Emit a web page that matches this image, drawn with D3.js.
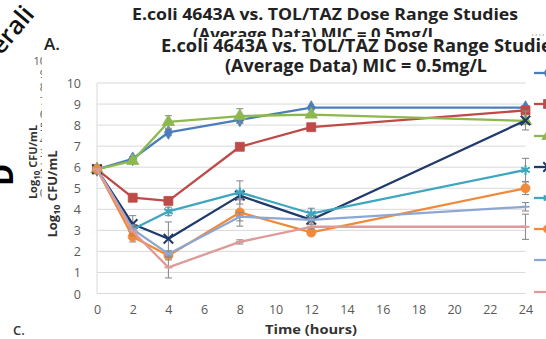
<!DOCTYPE html>
<html>
<head>
<meta charset="utf-8">
<script src="https://cdn.jsdelivr.net/npm/d3@7/dist/d3.min.js"></script>
<style>
  html, body { margin: 0; padding: 0; background: #fff; }
  svg { display: block; }
  text { font-family: "Open Sans", "Liberation Sans", sans-serif; }
</style>
</head>
<body>
<svg id="chart" width="546" height="339"></svg>
<script>
// Sampling times (hours)
const times = [0, 2, 4, 8, 12, 24];

// Mean log10 CFU/mL per series
const seriesBlue   = [5.9, 6.4, 7.65, 8.25, 8.83, 8.83];
const seriesRed    = [5.9, 4.55, 4.4, 6.97, 7.9, 8.7];
const seriesGreen  = [5.9, 6.3, 8.15, 8.43, 8.5, 8.2];
const seriesNavy   = [5.9, 3.3, 2.6, 4.65, 3.5, 8.22];
const seriesTeal   = [5.9, 3.05, 3.9, 4.8, 3.8, 5.87];
const seriesOrange = [5.9, 2.7, 1.8, 3.85, 2.9, 5.0];
const seriesLight  = [5.9, 3.05, 1.88, 3.65, 3.5, 4.12];
const seriesPink   = [5.9, 2.95, 1.24, 2.45, 3.17, 3.17];

// Standard deviations for the error bars
const errBlue   = [0, 0.1, 0.15, 0.15, 0.05, 0.05];
const errRed    = [0, 0.1, 0.1, 0.05, 0.1, 0.1];
const errGreen  = [0, 0.1, 0.3, 0.35, 0.05, 0.1];
const errNavy   = [0, 0.4, 0.8, 0.2, 0.2, 0.45];
const errTeal   = [0, 0.2, 0.2, 0.55, 0.25, 0.55];
const errOrange = [0, 0.25, 0.2, 0.65, 0.15, 0.3];
const errLight  = [0, 0.2, 0.15, 0.2, 0.1, 0.2];
const errPink   = [0, 0.2, 0.5, 0.1, 0.1, 0.6];

const xTicks = [0, 2, 4, 6, 8, 10, 12, 14, 16, 18, 20, 22, 24];
const yTicks = [0, 1, 2, 3, 4, 5, 6, 7, 8, 9, 10];

const titleLine1 = "E.coli 4643A vs. TOL/TAZ Dose Range Studies";
const titleLine2 = "(Average Data) MIC = 0.5mg/L";

const series = [
  { values: seriesBlue,   err: errBlue,   color: "#4A7EBB", marker: "diamond" },
  { values: seriesRed,    err: errRed,    color: "#BE4B48", marker: "square" },
  { values: seriesGreen,  err: errGreen,  color: "#8DB84E", marker: "triangle" },
  { values: seriesNavy,   err: errNavy,   color: "#1F3A6B", marker: "times" },
  { values: seriesTeal,   err: errTeal,   color: "#3FA6BF", marker: "asterisk" },
  { values: seriesOrange, err: errOrange, color: "#F08A3A", marker: "circle" },
  { values: seriesLight,  err: errLight,  color: "#8DA7D4", marker: "dash" },
  { values: seriesPink,   err: errPink,   color: "#DE9A98", marker: "dash" }
];

const svg = d3.select("#chart");

// ---- background copy of the figure (partly hidden) ----
const back = svg.append("g");
back.append("text")
  .attr("transform", "translate(1,56) rotate(-50)")
  .attr("font-size", 25).attr("font-weight", 600).attr("fill", "#111")
  .text("erali");

back.append("text").attr("x", 325).attr("y", 20).attr("text-anchor", "middle")
  .attr("font-size", 16).attr("font-weight", 700).attr("fill", "#222")
  .attr("textLength", 386).attr("lengthAdjust", "spacingAndGlyphs")
  .text(titleLine1);
back.append("text").attr("x", 315).attr("y", 40).attr("text-anchor", "middle")
  .attr("font-size", 16).attr("font-weight", 700).attr("fill", "#222")
  .attr("textLength", 244).attr("lengthAdjust", "spacingAndGlyphs")
  .text(titleLine2);

const yBack = d3.scaleLinear().domain([0, 10]).range([193, 61]);
back.selectAll("text.gtick").data(yTicks).join("text")
  .attr("class", "gtick")
  .attr("x", 46).attr("y", d => yBack(d) + 4)
  .attr("text-anchor", "end").attr("font-size", 11).attr("fill", "#595959")
  .text(d => d);

const gTitle = back.append("text")
  .attr("transform", `translate(37,162) rotate(-90)`)
  .attr("text-anchor", "middle").attr("font-size", 11).attr("font-weight", 700).attr("fill", "#333");
gTitle.append("tspan").text("Log");
gTitle.append("tspan").attr("font-size", 8).attr("dy", 3).text("10");
gTitle.append("tspan").attr("dy", -3).text(" CFU/mL");

back.append("line").attr("x1", 532).attr("x2", 546).attr("y1", 35).attr("y2", 35)
  .attr("stroke", "#9a9a9a").attr("stroke-width", 1.2).attr("stroke-dasharray", "1.5,2");

// ---- front chart ----
svg.append("rect").attr("x", 42).attr("y", 37).attr("width", 504).attr("height", 302).attr("fill", "#fff");

const margin = { left: 97, right: 525.5, top: 83, bottom: 293.5 };
const x = d3.scaleLinear().domain([0, 24]).range([margin.left, margin.right]);
const y = d3.scaleLinear().domain([0, 10]).range([margin.bottom, margin.top]);

// gridlines
svg.append("g").selectAll("line").data(yTicks).join("line")
  .attr("x1", margin.left).attr("x2", margin.right)
  .attr("y1", d => y(d)).attr("y2", d => y(d))
  .attr("stroke", "#D9D9D9").attr("stroke-width", 1);
svg.append("line").attr("x1", margin.left).attr("x2", margin.left)
  .attr("y1", margin.top).attr("y2", margin.bottom)
  .attr("stroke", "#D9D9D9").attr("stroke-width", 1);

// axes
const yAxis = svg.append("g").attr("transform", `translate(${margin.left - 16},0)`)
  .call(d3.axisLeft(y).tickValues(yTicks).tickSize(0).tickPadding(0));
yAxis.select(".domain").remove();
yAxis.selectAll("text").attr("font-size", 12.5).attr("fill", "#595959")
  .attr("font-family", "'Open Sans', sans-serif").attr("dy", "0.36em");

const xAxis = svg.append("g").attr("transform", `translate(0,${margin.bottom})`)
  .call(d3.axisBottom(x).tickValues(xTicks).tickSize(0).tickPadding(12));
xAxis.select(".domain").remove();
xAxis.selectAll("text").attr("font-size", 12.5).attr("fill", "#595959")
  .attr("font-family", "'Open Sans', sans-serif");

// axis titles
svg.append("text").attr("x", 311).attr("y", 334).attr("text-anchor", "middle")
  .attr("font-size", 12.5).attr("font-weight", 700).attr("fill", "#333")
  .attr("textLength", 92).attr("lengthAdjust", "spacingAndGlyphs")
  .text("Time (hours)");
const yTitle = svg.append("text")
  .attr("transform", `translate(57,194) rotate(-90)`)
  .attr("text-anchor", "middle").attr("font-size", 13).attr("font-weight", 700).attr("fill", "#333");
yTitle.append("tspan").text("Log");
yTitle.append("tspan").attr("font-size", 9).attr("dy", 3).text("10");
yTitle.append("tspan").attr("dy", -3).text(" CFU/mL");

// chart title
svg.append("text").attr("x", 161).attr("y", 52)
  .attr("font-size", 17).attr("font-weight", 700).attr("fill", "#222")
  .attr("textLength", 400).attr("lengthAdjust", "spacingAndGlyphs")
  .text(titleLine1);
svg.append("text").attr("x", 356).attr("y", 72).attr("text-anchor", "middle")
  .attr("font-size", 17).attr("font-weight", 700).attr("fill", "#222")
  .attr("textLength", 262).attr("lengthAdjust", "spacingAndGlyphs")
  .text(titleLine2);

// markers
function drawMarker(g, type, color, cx, cy, scale = 1) {
  const sym = {
    diamond: [d3.symbolDiamond, 55, true],
    square: [d3.symbolSquare, 80, true],
    triangle: [d3.symbolTriangle, 65, true],
    circle: [d3.symbolCircle, 65, true],
    times: [d3.symbolTimes, 60, false],
    asterisk: [d3.symbolAsterisk, 70, false]
  };
  if (type === "dash") {
    g.append("line").attr("x1", cx - 4).attr("x2", cx + 4).attr("y1", cy).attr("y2", cy)
      .attr("stroke", color).attr("stroke-width", 2);
    return;
  }
  const [s, size, filled] = sym[type];
  const p = g.append("path").attr("d", d3.symbol(s, size * scale)())
    .attr("transform", `translate(${cx},${cy})`);
  if (filled) p.attr("fill", color).attr("stroke", color).attr("stroke-width", 0.8);
  else p.attr("fill", "none").attr("stroke", color).attr("stroke-width", 2);
}

const line = d3.line().x((d, i) => x(times[i])).y(d => y(d));
const plot = svg.append("g");

series.forEach(s => {
  const g = plot.append("g");
  // error bars
  s.values.forEach((v, i) => {
    const e = s.err[i];
    if (!e) return;
    const cx = x(times[i]);
    g.append("line").attr("x1", cx).attr("x2", cx).attr("y1", y(v - e)).attr("y2", y(v + e))
      .attr("stroke", "#8C8C8C").attr("stroke-width", 1.1);
    [v - e, v + e].forEach(t => g.append("line")
      .attr("x1", cx - 3.5).attr("x2", cx + 3.5).attr("y1", y(t)).attr("y2", y(t))
      .attr("stroke", "#8C8C8C").attr("stroke-width", 1.1));
  });
  g.append("path").attr("d", line(s.values)).attr("fill", "none")
    .attr("stroke", s.color).attr("stroke-width", 2.3).attr("stroke-linejoin", "round");
  s.values.forEach((v, i) => drawMarker(g, s.marker, s.color, x(times[i]), y(v)));
});

// legend (extends past the right edge)
const legendY = [73, 104, 136, 167, 198, 229, 260, 292];
series.forEach((s, i) => {
  const g = svg.append("g");
  g.append("line").attr("x1", 534).attr("x2", 562).attr("y1", legendY[i]).attr("y2", legendY[i])
    .attr("stroke", s.color).attr("stroke-width", 2.3);
  if (s.marker !== "dash") drawMarker(g, s.marker, s.color, 548, legendY[i]);
});

// panel letters
svg.append("text").attr("x", 44).attr("y", 50).attr("font-size", 17).attr("font-weight", 600)
  .attr("fill", "#222").text("A.");
svg.append("text").attr("x", 13).attr("y", 335).attr("font-size", 13).attr("font-weight", 600)
  .attr("fill", "#333").text("C.");
svg.append("text").attr("transform", "translate(13,175) rotate(-90)")
  .attr("text-anchor", "middle").attr("font-size", 30).attr("font-weight", 700)
  .attr("fill", "#000").text("D");
</script>
</body>
</html>
